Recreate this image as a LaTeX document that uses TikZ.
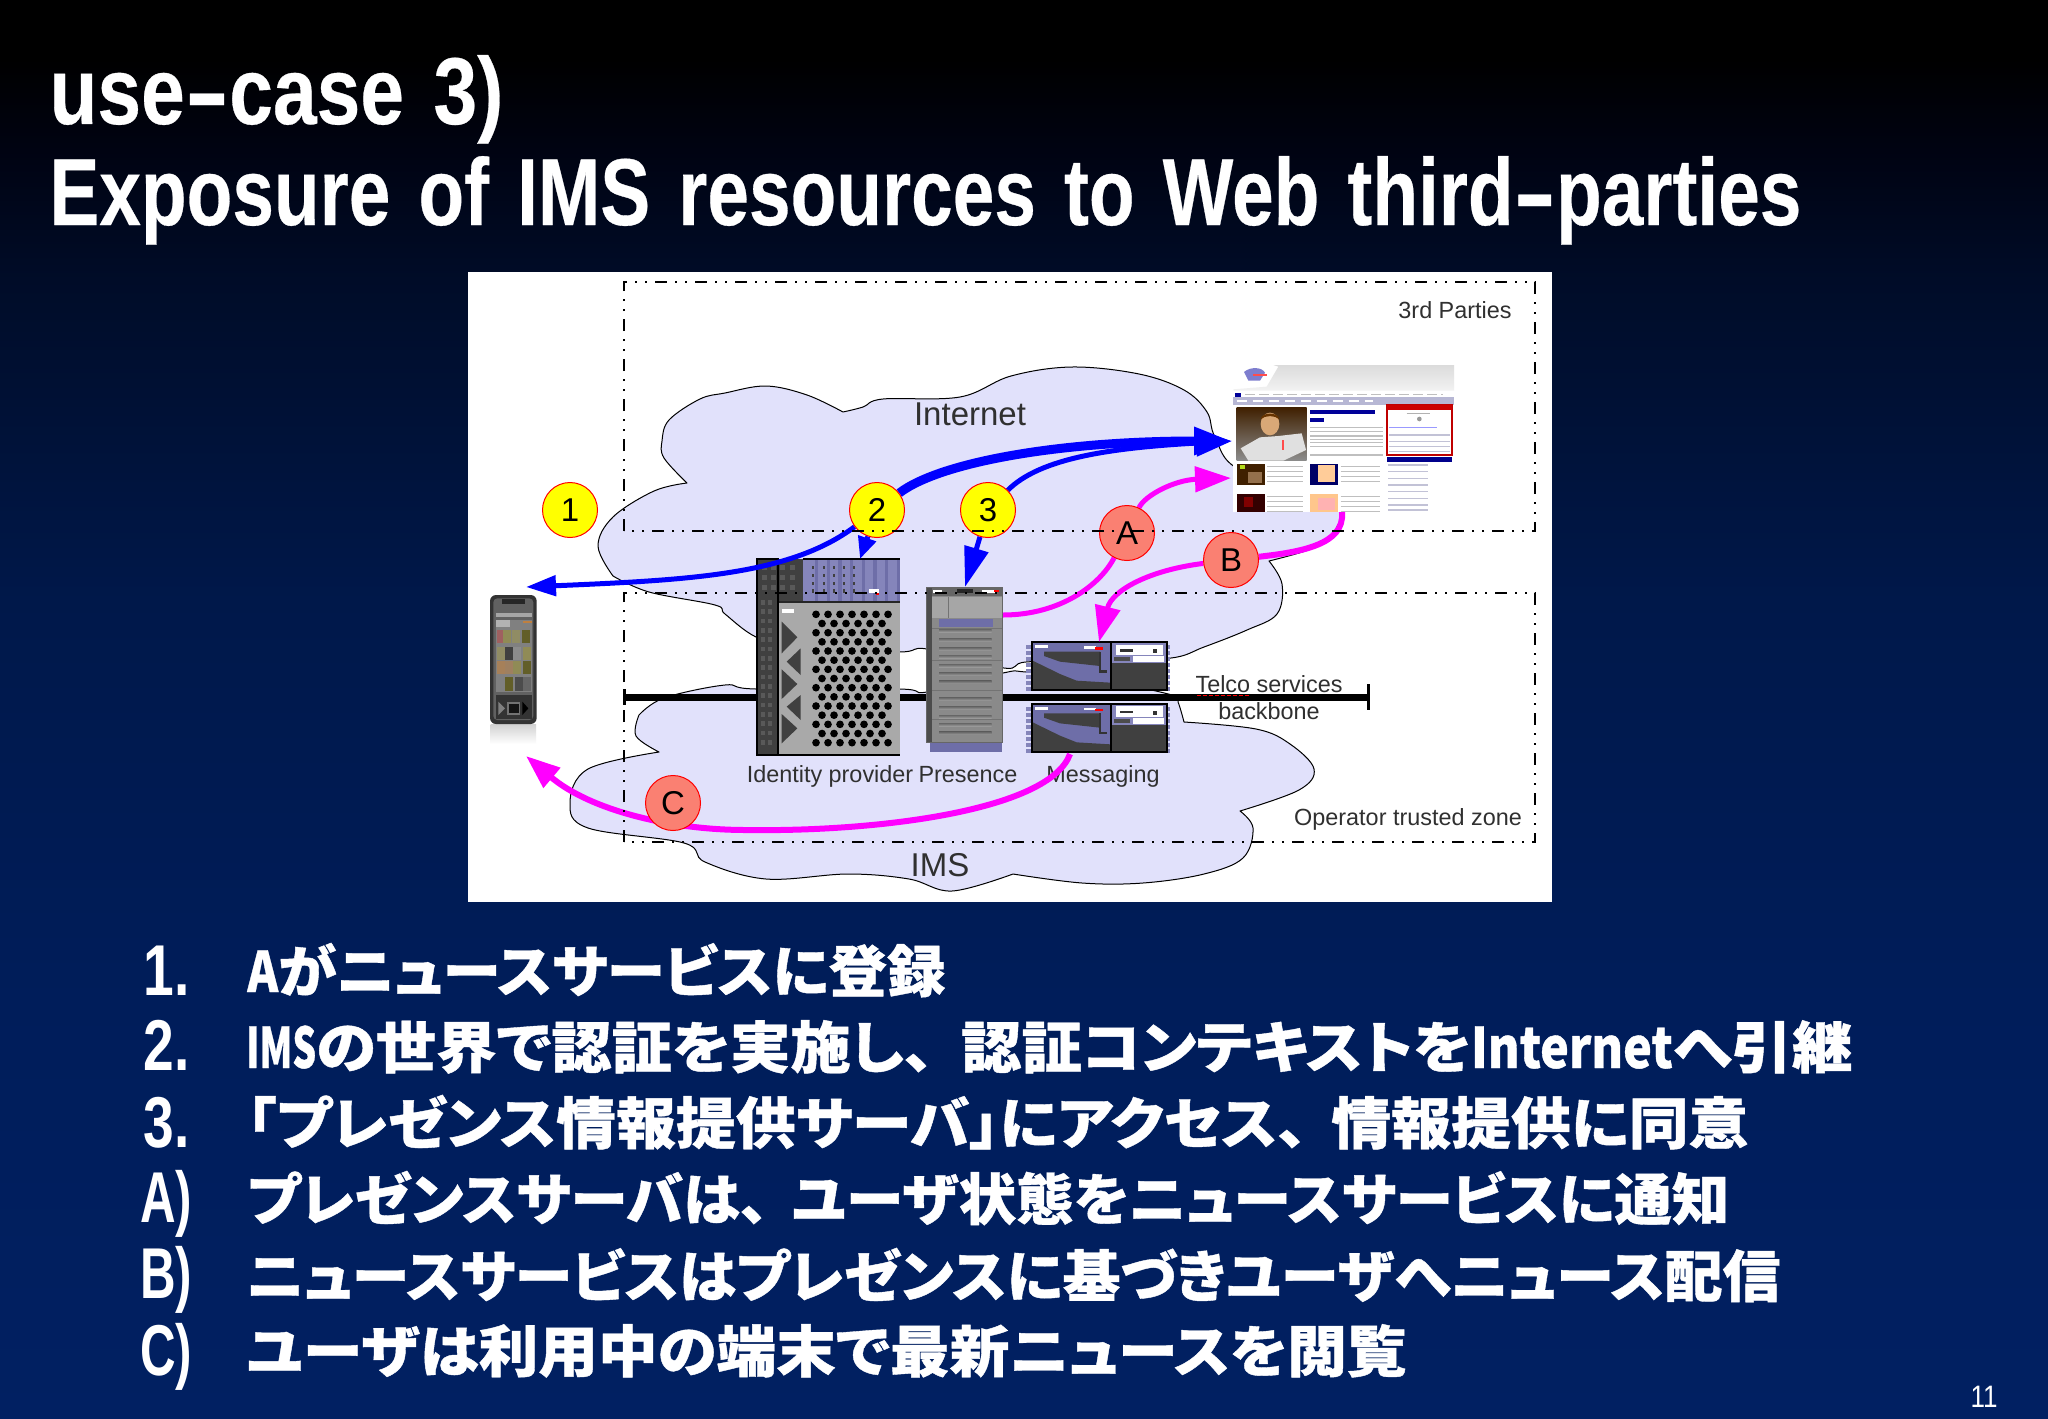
\documentclass[tikz,border=0pt]{standalone}
\usepackage{fontspec}
\usepackage{graphicx}
\usetikzlibrary{arrows.meta,shapes.geometric}
\setmainfont{Liberation Sans}
\newfontfamily\jpfont{Noto Sans CJK JP}[RawFeature=+palt,BoldFeatures={FakeBold=0.7}]
\newfontfamily\ttlfont{Liberation Sans}[BoldFeatures={FakeBold=0.35},WordSpace=1.35]
\newfontfamily\markfont{Liberation Sans}
\newcommand{\wideh}{\scalebox{1.7}[1]{-}}
\newcommand{\nar}[2]{\scalebox{#1}[1]{#2}}
\definecolor{slA}{HTML}{012062}
\definecolor{slB}{HTML}{001D5A}
\definecolor{slC}{HTML}{00184A}
\definecolor{slD}{HTML}{000C28}
\definecolor{slE}{HTML}{000312}
\definecolor{slF}{HTML}{000000}
\definecolor{cloudfill}{HTML}{E1E1FB}
\definecolor{salmonfill}{RGB}{250,128,114}
\definecolor{markyellow}{RGB}{255,255,0}
\definecolor{pinkline}{RGB}{255,0,255}
\definecolor{blueline}{RGB}{0,0,255}
\definecolor{lab}{HTML}{303030}
\definecolor{srvblue}{HTML}{8585BB}
\definecolor{srvblueD}{HTML}{6E6EA8}
\definecolor{srvdark}{HTML}{404040}
\definecolor{srvgray}{HTML}{A9A9A9}
\definecolor{srvmid}{HTML}{8A8A8A}
\pgfdeclareverticalshading{slidebg}{100bp}{color(0bp)=(slA);color(25bp)=(slA);color(39.75bp)=(slB);color(53.85bp)=(slC);color(65.15bp)=(slD);color(69.7bp)=(slE);color(72.9bp)=(slF);color(100bp)=(slF)}
\pgfdeclarelayer{base}
\pgfdeclarelayer{conn}
\pgfdeclarelayer{top}
\pgfsetlayers{base,conn,main,top}
\tikzset{
  titleline/.style={anchor=base west,inner sep=0pt,text=white,font=\ttlfont\bfseries\fontsize{47.5pt}{50pt}\selectfont},
  itemmark/.style={anchor=base west,inner sep=0pt,text=white,font=\markfont\bfseries\fontsize{36pt}{38pt}\selectfont},
  itemline/.style={anchor=base west,inner sep=0pt,text=white,font=\jpfont\bfseries\fontsize{28pt}{30pt}\selectfont},
  cloudshape/.style={fill=cloudfill,draw=black,line width=.5pt,line join=round},
  zonebox/.style={draw=black,line width=.8pt,dash pattern=on 6pt off 4pt on 1pt off 4pt on 1pt off 4pt},
  bigtext/.style={inner sep=0pt,text=lab,font=\fontsize{16.5pt}{18pt}\selectfont},
  smalltext/.style={anchor=base,inner sep=0pt,text=lab,font=\fontsize{11.7pt}{14pt}\selectfont},
  yellowmark/.style={circle,minimum size=27.5pt,inner sep=0pt,fill=markyellow,draw=red,line width=.5pt,font=\fontsize{16.5pt}{18pt}\selectfont},
  redmark/.style={circle,minimum size=27.5pt,inner sep=0pt,fill=salmonfill,draw=red,line width=.5pt,font=\fontsize{16.5pt}{18pt}\selectfont},
  bluearrow/.style={draw=blueline,line width=#1},
  pinkarrow/.style={draw=pinkline,line width=#1},
  holder/.style={inner sep=0pt,outer sep=0pt,minimum width=#1},
  greyline/.style={draw=black!25,line width=.6pt},
}
\begin{document}
\begin{tikzpicture}[x=.5pt,y=-.5pt]
\useasboundingbox (0,0) rectangle (2048,1418);
\begin{pgfonlayer}{base}
\shade[shading=slidebg] (0,0) rectangle (2048,1418);
% title
\node[titleline] (t1) at (49,124) {\resizebox{227pt}{\height}{use\wideh case 3)}};
\node[titleline] (t2) at (49,225) {\resizebox{876pt}{\height}{Exposure of IMS resources to Web third\wideh parties}};
% list
\node[itemmark] (m1) at (143,995) {\resizebox{23pt}{\height}{1.}};
\node[itemmark] (m2) at (143,1070) {\resizebox{23pt}{\height}{2.}};
\node[itemmark] (m3) at (143,1147) {\resizebox{23pt}{\height}{3.}};
\node[itemmark] (m4) at (140,1222) {\resizebox{26pt}{\height}{A)}};
\node[itemmark] (m5) at (140,1298) {\resizebox{26pt}{\height}{B)}};
\node[itemmark] (m6) at (140,1375) {\resizebox{26pt}{\height}{C)}};
\node[itemline] (l1) at (247,992) {\resizebox{349pt}{\height}{\nar{.8}{A}がニュースサービスに登録}};
\node[itemline] (l2) at (246,1068) {\resizebox{803pt}{\height}{\nar{.62}{IMS}の世界で認証を実施し、\kern.45em 認証コンテキストを\nar{.8}{Internet}へ引継}};
\node[itemline] (l3) at (246,1144) {\resizebox{751pt}{\height}{「プレゼンス情報提供サーバ」にアクセス、\kern.4em 情報提供に同意}};
\node[itemline] (l4) at (247,1220) {\resizebox{741pt}{\height}{プレゼンスサーバは、\kern.4em ユーザ状態をニュースサービスに通知}};
\node[itemline] (l5) at (246,1297) {\resizebox{767pt}{\height}{ニュースサービスはプレゼンスに基づきユーザへニュース配信}};
\node[itemline] (l6) at (246,1372) {\resizebox{580pt}{\height}{ユーザは利用中の端末で最新ニュースを閲覧}};
\node[anchor=base,inner sep=0pt,text=white,font=\fontsize{15.5pt}{16pt}\selectfont] (pg) at (1984,1407) {\resizebox{13.5pt}{\height}{11}};
% panel
\fill[white] (468,272) rectangle (1552,902);
% clouds
\path[cloudshape] plot[smooth,tension=.6] coordinates {(613,576)(598,546)(613,517)(654,491)(687,483)}
 -- plot[smooth,tension=.6] coordinates {(687,483)(664,458)(662,441)(669,420)(700,399)(725,393)(766,386)(807,395)(843,412)}
 -- plot[smooth,tension=.6] coordinates {(843,412)(863,407)(883,399)(960,397)(1011,376)(1072,367)(1139,374)(1184,390)(1207,412)(1215,437)(1240,470)(1336,500)(1336,529)(1327,538)(1308,550)(1269,561)}
 -- plot[smooth,tension=.6] coordinates {(1269,561)(1282,584)(1277,614)(1247,630)(1204,647)(1171,658)(1100,660)(1026,662)(1004,668)(927,649)(899,652)(800,650)(756,637)(725,614)(715,605)(649,592)(613,576)} -- cycle;
\path[cloudshape] plot[smooth,tension=.6] coordinates {(639,715)(664,698)(725,685)(756,689)(899,689)(927,692)(1003,673)(1026,672)(1100,680)(1172,695)(1178,702)(1184,722)}
 -- plot[smooth,tension=.6] coordinates {(1184,722)(1256,729)(1290,744)(1314,769)(1299,790)(1240,811)}
 -- plot[smooth,tension=.6] coordinates {(1240,811)(1253,828)(1243,858)(1204,874)(1143,883)(1082,883)(1013,874)}
 -- plot[smooth,tension=.6] coordinates {(1013,874)(952,891)(909,879)(848,874)(766,879)(705,862)(684,843)(588,828)(570,803)(588,769)(659,752)}
 -- plot[smooth,tension=.6] coordinates {(659,752)(636,736)(639,715)} -- cycle;
% backbone
\draw[line width=3.5pt] (624,697) -- (1368,697);
\draw[line width=1.5pt] (624,689) -- (624,705);
\draw[line width=1.5pt] (1368,684) -- (1368,710);
\draw[red,line width=.6pt,dash pattern=on 2pt off 1pt] (1197,695.5) -- (1251,695.5);
% labels
\node[bigtext] (internet) at (970,414) {Internet};
\node[bigtext] (ims) at (940,865) {IMS};
\node[smalltext] (third) at (1455,318) {3rd Parties};
\node[smalltext] (optz) at (1408,825) {Operator trusted zone};
\node[smalltext] (idlab) at (830,782) {Identity provider};
\node[smalltext] (preslab) at (968,782) {Presence};
\node[smalltext] (msglab) at (1103,782) {Messaging};
\node[smalltext] (telco) at (1269,692) {Telco services};
\node[smalltext] (bbone) at (1269,719) {backbone};
% holders for servers, page, phone
\node[holder=71.5pt,minimum height=98pt] (idp) at (828.5,657) {};
\node[holder=38pt,minimum height=78pt] (pres) at (965,665) {};
\node[holder=67.5pt,minimum height=24pt] (msgA) at (1099.5,666) {};
\node[holder=67.5pt,minimum height=24.5pt] (msgB) at (1099.5,728.5) {};
\node[holder=110.5pt,minimum height=73.5pt] (web) at (1343.5,438.5) {};
\node[holder=23.5pt,minimum height=64pt] (phone) at (513,659) {};
% identity provider
\begin{scope}[shift={(740,550)},x=.16667pt,y=-.16667pt]
 \fill[srvdark] (50,27) rectangle (190,615);
 \fill[srvdark] (50,155) rectangle (113,615);
 \foreach \c in {0,1,2,3}{\foreach \r in {0,1,2}{\fill[black!65] (65+\c*28,45+\r*30) rectangle ++(15,14);}}
 \foreach \c in {0,1}{\foreach \r in {0,...,15}{\fill[black!65] (62+\c*22,150+\r*28) rectangle ++(13,14);}}
 \fill[srvblue] (190,27) rectangle (480,155);
 \foreach \x in {225,260,295,330,365,400,435,470}{\fill[srvblueD] (\x,30) rectangle ++(10,123);}
 \foreach \x in {215,248,278,310,340}{\foreach \y in {48,72,96,118}{\fill[black!75] (\x,\y) rectangle ++(6,10);}}
 \fill[white] (388,116) rectangle (416,128);
 \fill[red] (408,128) rectangle (418,135);
 \draw[black,line width=.8pt] (190,27) -- (480,27);
 \fill[srvgray] (113,155) rectangle (480,615);
 \draw[black!85,line width=.9pt] (113,615) -- (113,155) -- (480,155);
 \draw[black,line width=.9pt] (50,27) rectangle (113,615);
 \draw[black,line width=.9pt] (50,615) -- (480,615);
 \fill[white] (127,178) rectangle (162,190);
 \fill[srvdark] (125,215) -- (172,262) -- (125,310) -- cycle;
 \fill[srvdark] (125,358) -- (172,402) -- (125,447) -- cycle;
 \fill[srvdark] (125,492) -- (172,535) -- (125,580) -- cycle;
 \fill[srvdark] (182,295) -- (140,335) -- (182,375) -- cycle;
 \fill[srvdark] (182,435) -- (140,470) -- (182,510) -- cycle;
 \foreach \r in {0,...,14}{\foreach \c in {0,...,6}{
   \pgfmathsetmacro{\dx}{228+\c*36+mod(\r,2)*18}
   \pgfmathsetmacro{\dy}{193+\r*27.5}
   \ifdim\dx pt<452pt \fill[black] (\dx,\dy) circle[radius=11.5]; \fi
 }}
\end{scope}
% presence
\begin{scope}[shift={(740,550)},x=.16667pt,y=-.16667pt]
 \fill[srvblueD] (570,570) rectangle (785,605);
 \fill[srvmid] (560,112) rectangle (788,578);
 \draw[black!60,line width=.8pt] (560,112) rectangle (788,578);
 \fill[black!70] (562,114) rectangle (575,576);
 \fill[black!60] (575,114) rectangle (786,138);
 \fill[white] (578,120) rectangle (605,128);
 \fill[black!85] (650,118) rectangle (700,130);
 \fill[white] (725,120) rectangle (765,128);
 \fill[red] (762,120) rectangle (778,127);
 \fill[black!35] (577,140) rectangle (785,205);
 \draw[black!55,line width=.6pt] (625,140) -- (625,205);
 \fill[srvblueD] (597,208) rectangle (758,232);
 \foreach \y in {240,268,295,318,345,370,395,445,472,498,522,548}{
   \shade[top color=black!60,bottom color=black!40] (597,\y-3) rectangle (755,\y+6);
 }
 \foreach \y in {235,330,420,508}{\draw[black!55,line width=.5pt] (575,\y) -- (785,\y);}
\end{scope}
% messaging
\begin{scope}[shift={(740,550)},x=.16667pt,y=-.16667pt]
 \foreach \t in {277,462}{
  \begin{scope}[yshift={-(\t-277)*.16667pt}]
   \foreach \r in {0,...,7}{
    \fill[srvblue] (858,285+\r*18) rectangle (875,297+\r*18);
    \fill[srvblue] (1280,285+\r*18) rectangle (1290,297+\r*18);
   }
   \fill[srvblueD] (875,277) rectangle (1112,420);
   \fill[srvdark] (912,305) -- (1080,305) -- (1080,348) -- (960,335) -- (912,318) -- cycle;
   \fill[srvdark] (878,332) -- (960,372) -- (1010,392) -- (1112,398) -- (1112,420) -- (878,420) -- cycle;
   \fill[black!80] (1078,305) rectangle (1084,365);
   \fill[black!80] (1078,360) rectangle (1102,368);
   \fill[white] (885,285) rectangle (925,294);
   \fill[white] (1032,288) rectangle (1068,296);
   \fill[red] (1066,292) rectangle (1090,299);
   \fill[srvblue] (1115,280) rectangle (1278,340);
   \fill[white] (1128,284) rectangle (1268,315);
   \fill[black!80] (1140,298) rectangle (1180,305);
   \fill[black!80] (1240,298) rectangle (1252,310);
   \fill[white] (1178,318) rectangle (1272,336);
   \fill[black!70] (1122,322) rectangle (1170,334);
   \fill[srvdark] (1115,340) rectangle (1278,420);
   \draw[black,line width=.9pt] (875,277) rectangle (1280,420);
   \draw[black,line width=.9pt] (1113,277) -- (1113,420);
  \end{scope}
 }
\end{scope}
% web page
\begin{scope}[shift={(1220,350)},x=.16667pt,y=-.16667pt]
 \fill[white] (40,45) rectangle (702,485);
 \shade[top color=black!14,bottom color=black!5] (160,45) -- (702,45) -- (702,122) -- (40,122) -- (40,118) -- (140,110) -- (175,50) -- cycle;
 \fill[blue!45!gray!70] (72,66) .. controls (90,50) and (125,50) .. (135,68) -- (120,92) -- (85,92) -- cycle;
 \fill[red!70] (100,72) rectangle (142,78);
 \draw[black!25,line width=.7pt,dash pattern=on 5pt off 2pt] (75,133) -- (670,133);
 \fill[blue!60!black] (45,128) rectangle (64,142);
 \fill[blue!25!gray!45] (40,142) rectangle (702,165);
 \draw[white,line width=.8pt,dash pattern=on 5pt off 3pt] (50,153) -- (460,153);
 \shade[top color=black!75!orange,bottom color=black!45] (50,172) rectangle (260,332);
 \fill[black!12] (62,295) -- (120,262) -- (175,258) -- (245,250) -- (258,300) -- (190,332) -- (85,332) -- cycle;
 \fill[orange!45!white!85!black] (150,222) ellipse[x radius=28,y radius=34];
 \fill[black!60!orange] (122,208) .. controls (125,185) and (175,185) .. (178,208) .. controls (165,195) and (135,195) .. (122,208) -- cycle;
 \fill[red!70] (185,270) rectangle (192,300);
 \fill[blue!60!black] (270,180) rectangle (465,192);
 \fill[blue!60!black] (270,203) rectangle (312,217);
 \foreach \y in {232,245,258,268,278,290,315}{\draw[greyline] (270,\y) -- (488,\y);}
 \draw[red!75!black,line width=.9pt] (502,165) rectangle (696,315);
 \fill[red!80!black] (502,165) rectangle (696,180);
 \draw[black!30,line width=.7pt] (560,190) -- (630,190);
 \fill[black!40] (598,207) circle[radius=7];
 \draw[blue!40,line width=.8pt] (508,232) -- (650,232);
 \foreach \y in {255,275,290,305}{\draw[blue!20!gray!40,line width=.7pt] (508,\y) -- (690,\y);}
 \fill[blue!55!black] (500,320) rectangle (697,337);
 \foreach \y in {345,365,385,405,425,445,465,480}{\draw[blue!20!gray!40,line width=.7pt] (505,\y) -- (625,\y);}
 \fill[black!75!orange] (50,342) rectangle (135,405);
 \fill[yellow!70!green] (60,345) rectangle (75,356);
 \fill[orange!40!black!70!white] (85,365) rectangle (125,400);
 \fill[blue!40!black] (270,342) rectangle (355,405);
 \fill[orange!40!white] (295,345) rectangle (345,395);
 \fill[black!80!red] (50,432) rectangle (135,485);
 \fill[red!50!black] (72,442) rectangle (100,470);
 \fill[orange!45!white] (270,432) rectangle (355,485);
 \fill[red!30!white] (295,445) rectangle (345,480);
 \foreach \y in {350,365,380,395}{
   \draw[greyline] (142,\y) -- (250,\y);
   \draw[greyline] (362,\y) -- (480,\y);
   \draw[greyline] (142,\y+90) -- (250,\y+90);
   \draw[greyline] (362,\y+90) -- (480,\y+90);
 }
\end{scope}
% phone
\begin{scope}[shift={(470,580)},x=.16667pt,y=-.16667pt]
 \shade[top color=black!18,bottom color=white] (62,432) rectangle (198,492);
 \fill[black!80,rounded corners=3pt] (60,45) rectangle (200,432);
 \fill[black!62,rounded corners=2pt] (70,55) rectangle (190,420);
 \fill[black!85] (97,58) rectangle (165,72);
 \fill[black!35] (78,100) rectangle (185,112);
 \fill[black!50] (78,120) rectangle (185,335);
 \foreach \x/\y/\col in {80/150/red!25!gray,100/150/olive!40!gray,125/150/olive!30!gray,155/150/olive!60!black,
   80/200/olive!30!gray,105/200/black!75,130/200/black!45,160/200/olive!40!gray,
   80/243/orange!30!gray,105/243/orange!25!gray,130/243/olive!40!gray,160/243/olive!60!black,
   80/292/black!50,105/292/olive!60!black,135/292/black!70,160/292/black!60}{
   \fill[\col] (\x,\y) rectangle ++(24,40);
 }
 \fill[black!30] (78,120) rectangle (120,140);
 \fill[orange!50!gray] (160,122) rectangle (185,130);
 \fill[black!80] (78,345) rectangle (185,418);
 \fill[black!55] (110,365) rectangle (150,405);
 \fill[black!92] (118,372) rectangle (146,400);
 \fill[black!50] (85,365) -- (105,385) -- (85,405) -- cycle;
 \fill[black] (157,365) -- (175,385) -- (157,405) -- cycle;
\end{scope}
\end{pgfonlayer}
% named free ends
\coordinate (webL1) at (1232,441);
\coordinate (webL2) at (1231,478);
\coordinate (webB) at (1342,512);
\coordinate (phoneTop) at (526,587);
\coordinate (phoneBot) at (526,756);
\coordinate (idpTop) at (860,559);
\coordinate (presR) at (1003,615);
\coordinate (msgTop) at (1099,642);
\coordinate (msgOut) at (1070,754);
\coordinate (cLow) at (746,830);
% markers
\node[yellowmark] (n1) at (570,510) {1};
\node[yellowmark] (n2) at (877,510) {2};
\node[yellowmark] (n3) at (988,510) {3};
\node[redmark] (nA) at (1127,533) {A};
\node[redmark] (nB) at (1231,560) {B};
\node[redmark] (nC) at (673,803) {C};
% connectors
\begin{pgfonlayer}{conn}
\path[bluearrow=2.5pt,-{Triangle[length=18pt,width=13pt]}] (n3) .. controls (1040,458) and (1110,448) .. (webL1);
\path[bluearrow=4.5pt,-{Triangle[length=19pt,width=13pt]}] (n2) .. controls (940,462) and (1060,441) .. (webL1);
\path[bluearrow=2.5pt,-{Triangle[length=15pt,width=10pt]}] (n2) .. controls (790,575) and (690,580) .. (phoneTop);
\path[bluearrow=2.5pt,-{Triangle[length=11pt,width=9pt]}] (n2) -- (idpTop);
\path[bluearrow=2.5pt,-{Triangle[length=20pt,width=12pt]}] (n3) -- (pres.north);
\path[pinkarrow=2.5pt] (presR) .. controls (1060,615) and (1100,585) .. (nA);
\path[pinkarrow=2.5pt,-{Triangle[length=18pt,width=12.5pt]}] (nA) .. controls (1145,495) and (1175,480) .. (webL2);
\path[pinkarrow=3pt] (webB) .. controls (1345,545) and (1300,552) .. (nB);
\path[pinkarrow=2.5pt,-{Triangle[length=18pt,width=12.5pt]}] (nB) .. controls (1150,570) and (1112,590) .. (msgTop);
\path[pinkarrow=3pt,-{Triangle[length=17pt,width=12.5pt]}] (msgOut) .. controls (1050,810) and (880,832) .. (cLow) .. controls (670,830) and (590,810) .. (phoneBot);
\end{pgfonlayer}
% zone boxes on top
\begin{pgfonlayer}{top}
\draw[zonebox] (624,531) -- (624,282) -- (1535,282) -- (1535,531) -- (624,531);
\draw[zonebox] (624,842) -- (624,593) -- (1535,593) -- (1535,842) -- (624,842);
\end{pgfonlayer}
\end{tikzpicture}
\end{document}
